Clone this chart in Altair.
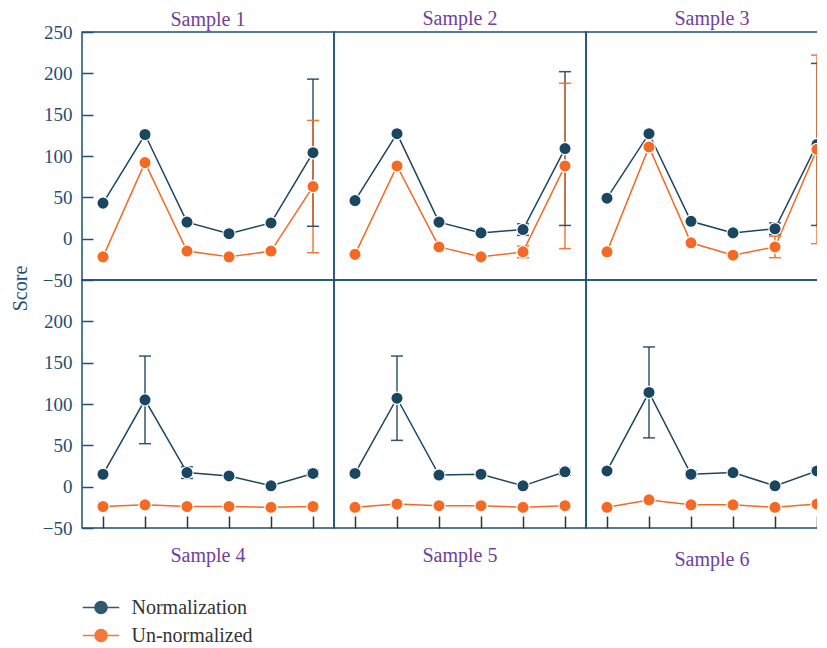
import altair as alt
import pandas as pd

samples = ["Sample 1", "Sample 2", "Sample 3", "Sample 4", "Sample 5", "Sample 6"]
positions = ["1", "2", "3", "4", "5", "6"]
series_names = ["Normalization", "Un-normalized"]

norm_mean = {
    "Sample 1": [43, 126, 20, 6, 19, 104],
    "Sample 2": [46, 127, 20, 7, 11, 109],
    "Sample 3": [49, 127, 21, 7, 12, 114],
    "Sample 4": [15, 105, 17, 13, 1, 16],
    "Sample 5": [16, 107, 14, 15, 1, 18],
    "Sample 6": [19, 114, 15, 17, 1, 19],
}
norm_err = {
    "Sample 1": [0, 0, 0, 0, 0, 89],
    "Sample 2": [0, 0, 0, 0, 7, 93],
    "Sample 3": [0, 0, 0, 0, 7, 98],
    "Sample 4": [0, 53, 7, 0, 0, 4],
    "Sample 5": [0, 51, 4, 0, 0, 4],
    "Sample 6": [0, 55, 4, 0, 0, 4],
}
un_mean = {
    "Sample 1": [-22, 92, -15, -22, -15, 63],
    "Sample 2": [-19, 88, -10, -22, -16, 88],
    "Sample 3": [-16, 111, -5, -20, -10, 108],
    "Sample 4": [-24, -22, -24, -24, -25, -24],
    "Sample 5": [-25, -21, -23, -23, -25, -23],
    "Sample 6": [-25, -16, -22, -22, -25, -21],
}
un_err = {
    "Sample 1": [0, 0, 0, 0, 0, 80],
    "Sample 2": [0, 0, 0, 0, 7, 100],
    "Sample 3": [0, 0, 0, 0, 13, 114],
    "Sample 4": [0, 0, 0, 0, 0, 0],
    "Sample 5": [0, 0, 0, 0, 0, 0],
    "Sample 6": [0, 0, 0, 0, 0, 0],
}
y_ticks_top = [-50, 0, 50, 100, 150, 200, 250]
y_ticks_bottom = [-50, 0, 50, 100, 150, 200]
right_ticks = [-25, 25, 75, 125, 175, 225]
title_offsets = [-23, -13, -13, 24, 33, 37]

rows = []
for name, means, errs in [("Normalization", norm_mean, norm_err), ("Un-normalized", un_mean, un_err)]:
    for s in samples:
        for i, p in enumerate(positions):
            rows.append({"sample": s, "t": p, "series": name,
                         "mean": means[s][i], "err": errs[s][i]})
df = pd.DataFrame(rows)
df["lo"] = df["mean"] - df["err"]
df["hi"] = df["mean"] + df["err"]

SERIF = "Liberation Serif"
NAVY = "#1f4e79"
PURPLE = "#7040a0"
COLORS = ["#1b4660", "#f26a24"]

LEGEND_PATH = "M-1.35,0H-0.45M0.45,0H1.35M0.45,0A0.45,0.45,0,1,1,-0.45,0A0.45,0.45,0,1,1,0.45,0Z"
legend = alt.Legend(
    title=None, orient="none", legendX=4.5, legendY=561, padding=0,
    symbolType=LEGEND_PATH, symbolSize=729, symbolStrokeWidth=1.5,
    rowPadding=3, labelOffset=16, labelFont=SERIF, labelFontSize=20,
    labelColor="#333333", labelLimit=300,
)
color = alt.Color("series:N", scale=alt.Scale(domain=series_names, range=COLORS), legend=legend)
yscale = alt.Scale(domain=[-50, 250], nice=False, zero=False)
xscale = alt.Scale(type="point", padding=0.5, domain=positions)


def panel(idx):
    s = samples[idx]
    row, col = divmod(idx, 3)
    base = alt.Chart(df).transform_filter(alt.datum.sample == s)

    if row == 1:
        xaxis = alt.Axis(orient="bottom", offset=-12, tickSize=12, labels=False,
                         domain=False, grid=False, title=None, tickColor="#333333",
                         tickWidth=1.5)
    else:
        xaxis = None

    if col == 0:
        yaxis = alt.Axis(values=y_ticks_top if row == 0 else y_ticks_bottom,
                         offset=-11, tickSize=11, labelPadding=10, domain=False,
                         grid=False, tickColor=NAVY, tickWidth=1.5,
                         title="Score" if row == 1 else None,
                         titleX=-73, titleY=8, titleAngle=-90, titleAlign="center",
                         titleBaseline="middle", titleFont=SERIF, titleFontSize=20,
                         titleFontWeight="normal", titleColor=NAVY)
    else:
        yaxis = None

    if col == 2:
        raxis = alt.Axis(orient="right", values=right_ticks, offset=-12, tickSize=12,
                         labels=False, domain=False, grid=False, title=None,
                         tickColor=NAVY, tickWidth=1.5)
    else:
        raxis = None

    x = alt.X("t:N", scale=xscale, axis=None)
    err = base.transform_filter(alt.datum.err > 0)
    rule = err.mark_rule(strokeWidth=1.5, opacity=0.9).encode(
        x=x, y=alt.Y("lo:Q", scale=yscale, axis=None), y2="hi:Q", color=color)
    cap_lo = err.mark_tick(size=12, thickness=1.5, opacity=0.9).encode(
        x=x, y=alt.Y("lo:Q", scale=yscale, axis=None), color=color)
    cap_hi = err.mark_tick(size=12, thickness=1.5, opacity=0.9).encode(
        x=x, y=alt.Y("hi:Q", scale=yscale, axis=None), color=color)
    line = base.mark_line(strokeWidth=1.5).encode(
        x=alt.X("t:N", scale=xscale, axis=xaxis),
        y=alt.Y("mean:Q", scale=yscale, axis=yaxis), color=color)
    pts = base.mark_circle(size=150, opacity=1, stroke="white", strokeWidth=1.2).encode(
        x=x, y=alt.Y("mean:Q", scale=yscale, axis=raxis), color=color)

    title = alt.TitleParams(
        s, orient="top" if row == 0 else "bottom", frame="group", anchor="middle",
        baseline="alphabetic", offset=title_offsets[idx], font=SERIF,
        fontSize=20, fontWeight="normal", color=PURPLE)
    return (alt.layer(rule, cap_lo, cap_hi, line, pts)
            .resolve_axis(x="independent", y="independent")
            .properties(width=252, height=248, title=title))


chart = (
    alt.concat(*[panel(i) for i in range(6)], columns=3, spacing=0, bounds="flush")
    .properties(padding={"left": 1, "top": 0, "right": -23, "bottom": 0})
    .configure_view(stroke=NAVY, strokeWidth=1.5)
    .configure_axis(labelFont=SERIF, labelFontSize=19, labelColor=NAVY)
)

chart.save("out.html", embed_options={"renderer": "svg", "actions": False})
